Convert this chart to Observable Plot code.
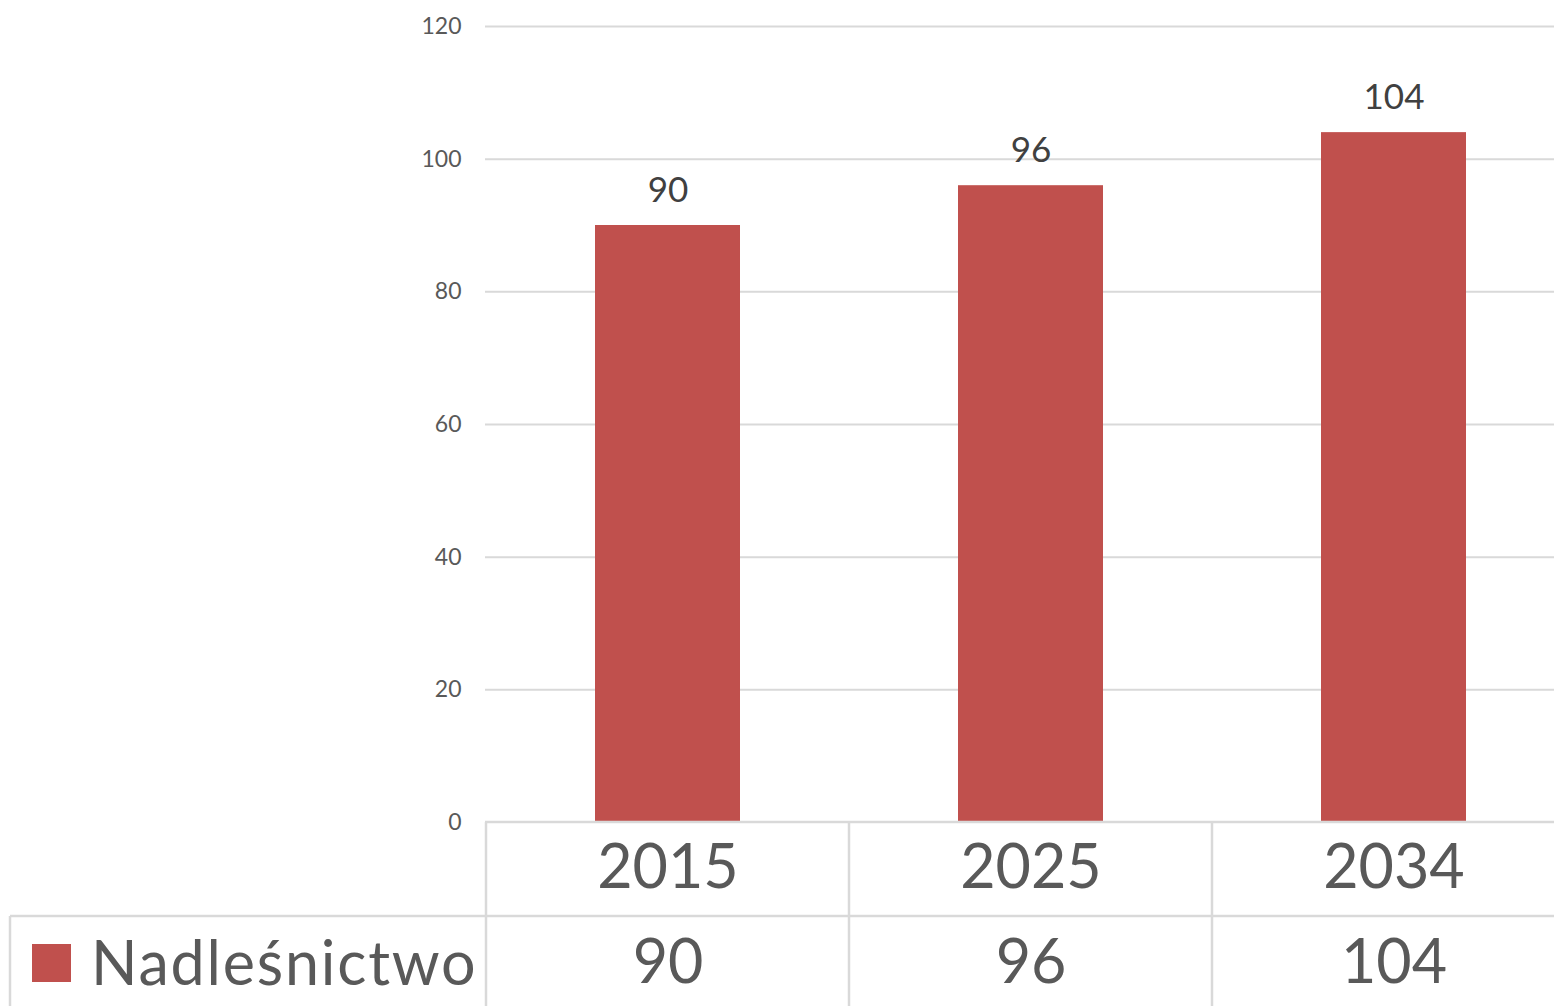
<!DOCTYPE html>
<html>
<head>
<meta charset="utf-8">
<script src="https://cdn.jsdelivr.net/npm/d3@7"></script>
<script src="https://cdn.jsdelivr.net/npm/@observablehq/plot@0.6"></script>
<style>
  html, body { margin: 0; padding: 0; background: #fff; }
  #chart svg { display: block; }
</style>
</head>
<body>
<div id="chart"></div>
<script>
const years = ["2015", "2025", "2034"];
const values = [90, 96, 104];
const seriesName = "Nadleśnictwo";
const yTicks = [0, 20, 40, 60, 80, 100, 120];

const data = years.map((y, i) => ({year: y, value: values[i]}));

const FONT = "Lato, 'Open Sans', sans-serif";
const TEXT = "#595959";
const GRID = "#d9d9d9";
const BAR = "#C0504D";

const W = 1554, H = 1006;
const mL = 485, mT = 26, mB = 184;
const plotBottom = H - mB; // 822

const chart = Plot.plot({
  width: W,
  height: H,
  marginLeft: mL,
  marginRight: 0,
  marginTop: mT,
  marginBottom: mB,
  style: {fontFamily: FONT, background: "#fff", overflow: "visible"},
  x: {domain: years, range: [mL, 1575], padding: 0, axis: null},
  y: {domain: [0, 120], ticks: yTicks, tickSize: 0, tickPadding: 24, label: null,
      tickFormat: d => String(d)},
  marks: [
    Plot.gridY(yTicks.filter(t => t > 0), {stroke: GRID, strokeOpacity: 1, strokeWidth: 2}),
    Plot.axisY({ticks: yTicks, tickSize: 0, tickPadding: 24, fontSize: 23, fill: TEXT, label: null}),
    Plot.barY(data, {x: "year", y: "value", fill: BAR, insetLeft: 109, insetRight: 109}),
    Plot.text(data, {x: "year", y: "value", text: d => String(d.value), lineAnchor: "bottom",
      dy: -24, fontSize: 35, fill: "#404040"}),
    // data table: header row (years) and value row
    Plot.text(data, {x: "year", frameAnchor: "bottom", lineAnchor: "middle", text: "year", dy: 46,
      fontSize: 61, fill: TEXT}),
    Plot.text(data, {x: "year", frameAnchor: "bottom", lineAnchor: "middle", text: d => String(d.value), dy: 141,
      fontSize: 61, fill: TEXT})
  ]
});

document.getElementById("chart").appendChild(chart);

// table borders and legend entry
const svg = d3.select(chart);
const x = chart.scale("x");
const bounds = years.map(y => x.apply(y));
const g = svg.append("g").attr("stroke", GRID).attr("stroke-width", 2.5);
g.append("line").attr("x1", mL).attr("x2", W).attr("y1", plotBottom).attr("y2", plotBottom);
g.append("line").attr("x1", 10).attr("x2", W).attr("y1", 916).attr("y2", 916);
g.append("line").attr("x1", 10).attr("x2", 10).attr("y1", 916).attr("y2", H);
bounds.forEach(b => {
  g.append("line").attr("x1", b).attr("x2", b).attr("y1", plotBottom).attr("y2", H);
});

svg.append("rect").attr("x", 32).attr("y", 944).attr("width", 39).attr("height", 38).attr("fill", BAR);
svg.append("text").attr("x", 91).attr("y", 963).attr("dy", "0.36em")
  .attr("text-anchor", "start").attr("letter-spacing", 1.8)
  .attr("font-family", FONT).attr("font-size", 61).attr("fill", TEXT).text(seriesName);
</script>
</body>
</html>
